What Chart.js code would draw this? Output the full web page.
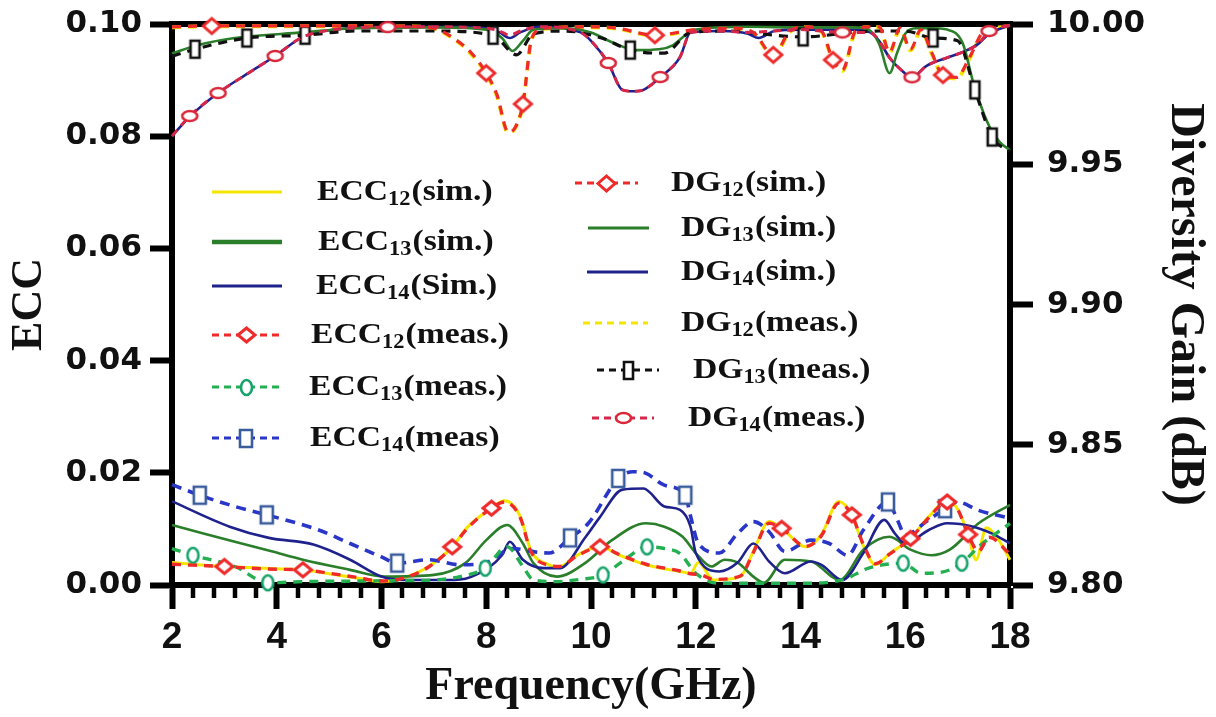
<!DOCTYPE html>
<html>
<head>
<meta charset="utf-8">
<script src="https://cdn.jsdelivr.net/npm/chart.js@4.4.1/dist/chart.umd.min.js"></script>
<style>
  html, body { margin: 0; padding: 0; background: #ffffff; }
  #c { display: block; }
</style>
</head>
<body>
<canvas id="c" width="1216" height="717"></canvas>
<script>
// ---------- ECC (left axis) ----------
const ecc12SimF = [2,2.5,3,3.5,4,4.5,5,5.5,6,6.4,6.9,7.35,7.65,8.1,8.35,8.65,8.85,9.2,9.4,9.7,10,10.17,10.55,11.05,11.7,11.9,12.05,12.34,12.85,13.1,13.4,13.64,14.1,14.4,14.73,14.98,15.2,15.43,15.7,16.1,16.45,16.8,17,17.2,17.35,17.55,17.75,18];
const ecc12SimV = [0.0040,0.0036,0.0033,0.0031,0.0029,0.0027,0.0020,0.0013,0.0006,0.0012,0.0033,0.0068,0.0104,0.0137,0.0150,0.0122,0.0062,0.0036,0.0033,0.0051,0.0065,0.0068,0.0053,0.0036,0.0024,0.0021,0.0040,0.0009,0.0015,0.0060,0.0113,0.0101,0.0068,0.0090,0.0149,0.0125,0.0070,0.0036,0.0056,0.0083,0.0122,0.0150,0.0135,0.0090,0.0045,0.0102,0.0085,0.0045];

const ecc13SimF = [2,2.6,3.2,3.9,4.5,5.4,6.05,7.0,7.6,8.0,8.4,8.7,8.9,9.35,9.9,10.4,11.05,11.4,11.75,12.0,12.3,12.55,12.8,13.1,13.3,13.7,14.2,14.75,15.2,15.7,16.1,16.5,16.85,17.4,18];
const ecc13SimV = [0.0107,0.0092,0.0077,0.0060,0.0045,0.0027,0.0015,0.0018,0.0039,0.0080,0.0107,0.0074,0.0039,0.0015,0.0040,0.0080,0.0110,0.0104,0.0086,0.0057,0.0033,0.0045,0.0040,0.0015,0.0004,0.0045,0.0042,0.0009,0.0063,0.0086,0.0063,0.0053,0.0063,0.0110,0.0143];

const ecc14SimF = [2,3.1,3.85,4.7,5.4,6.0,6.4,7.4,7.8,8.3,8.45,8.7,9.1,9.4,9.9,10.17,10.6,11.0,11.4,11.7,11.9,12.0,12.45,12.8,13.1,13.4,13.7,14.2,14.4,14.8,15.2,15.6,15.8,16.0,16.45,16.8,17.3,17.65,18];
const ecc14SimV = [0.0149,0.0104,0.0084,0.0072,0.0045,0.0015,0.0009,0.0009,0.0018,0.0053,0.0077,0.0045,0.0030,0.0030,0.0086,0.0121,0.0170,0.0172,0.0140,0.0134,0.0104,0.0057,0.0024,0.0040,0.0074,0.0042,0.0021,0.0042,0.0036,0.0009,0.0057,0.0116,0.0092,0.0074,0.0098,0.0110,0.0104,0.0092,0.0074];

const ecc12MeasF = [2,2.5,3,3.5,4,4.5,5,5.5,6,6.4,6.9,7.35,7.65,8.1,8.35,8.65,8.85,9.2,9.4,9.7,10,10.17,10.55,11.05,11.7,11.9,12.1,12.34,12.85,13.1,13.4,13.64,14.1,14.4,14.73,14.98,15.2,15.43,15.7,16.1,16.45,16.8,17,17.2,17.4,17.6,18];
const ecc12MeasV = [0.0037,0.0035,0.0033,0.0030,0.0028,0.0027,0.0021,0.0014,0.0007,0.0012,0.0032,0.0068,0.0102,0.0137,0.0148,0.0120,0.0060,0.0035,0.0033,0.0050,0.0064,0.0068,0.0054,0.0037,0.0025,0.0020,0.0018,0.0010,0.0016,0.0058,0.0110,0.0101,0.0069,0.0088,0.0146,0.0125,0.0072,0.0038,0.0055,0.0083,0.0120,0.0148,0.0135,0.0090,0.0060,0.0085,0.0055];
const ecc12MeasMarks = [3,4.5,7.35,8.1,10.17,13.64,14.98,16.1,16.8,17.2];

const ecc13MeasF = [2,2.4,3.2,3.83,4.5,5.5,6.5,7.0,7.5,7.98,8.4,8.7,8.9,9.3,9.8,10.23,10.6,11.07,11.4,11.7,12.0,12.45,13,14,14.8,15.3,15.96,16.3,16.7,17.08,17.4,18];
const ecc13MeasV = [0.0065,0.0053,0.0033,0.0004,0.0006,0.0007,0.0008,0.0009,0.0015,0.0030,0.0068,0.0033,0.0009,0.0006,0.0010,0.0018,0.0042,0.0068,0.0065,0.0056,0.0021,0.0003,0.0003,0.0003,0.0009,0.0030,0.0039,0.0021,0.0023,0.0039,0.0068,0.0110];
const ecc13MeasMarks = [2.4,3.83,7.98,10.23,11.07,15.96,17.08];

const ecc14MeasF = [2,2.53,3.2,3.81,4.8,5.4,6.0,6.3,6.9,7.5,8.0,8.5,9.0,9.2,9.6,9.95,10.52,10.8,11.05,11.4,11.8,11.9,12.05,12.45,12.8,13.1,13.4,13.7,14.2,14.55,14.9,15.2,15.67,15.85,16.0,16.4,16.76,17.0,17.4,18];
const ecc14MeasV = [0.0179,0.0160,0.0140,0.0125,0.0098,0.0074,0.0050,0.0039,0.0045,0.0036,0.0040,0.0065,0.0058,0.0057,0.0084,0.0110,0.0190,0.0202,0.0199,0.0178,0.0160,0.0123,0.0074,0.0057,0.0092,0.0113,0.0095,0.0060,0.0080,0.0074,0.0053,0.0098,0.0148,0.0116,0.0089,0.0113,0.0136,0.0148,0.0133,0.0119];
const ecc14MeasMarks = [2.53,3.81,6.3,9.6,10.52,11.8,15.67,16.76];

// ---------- Diversity gain (right axis, dB) ----------
const dg12SimF = [2,2.76,3.5,4.5,5.5,6.5,7.0,7.37,7.7,8.0,8.2,8.42,8.55,8.7,8.87,9.1,10,10.5,11.22,12,12.7,13.1,13.48,13.8,14.1,14.4,14.62,14.8,15.05,15.3,15.5,15.7,15.9,16.1,16.3,16.5,16.72,16.98,17.23,17.5,17.8,18];
const dg12SimV = [9.9990,9.9993,9.9993,9.9993,9.9993,9.9992,9.9985,9.9950,9.9900,9.9825,9.9750,9.9615,9.9630,9.9715,9.9950,9.9985,9.9990,9.9985,9.9960,9.9980,9.9985,9.9970,9.9890,9.9975,9.9990,9.9975,9.9872,9.9836,9.9975,9.9990,9.9990,9.9900,9.9985,9.9910,9.9980,9.9900,9.9818,9.9810,9.9882,9.9975,9.9990,9.9995];
const dg12SimMarks = [2.76,8.0,8.7,11.22,13.48,14.62,16.72];

const dg13SimF = [2,2.5,3.2,4.5,5.5,7,8,8.3,8.5,8.7,8.9,9.5,10,10.4,10.87,11.3,11.57,11.8,12,13,14,15,15.3,15.5,15.7,15.85,16.0,16.2,16.5,16.8,17.1,17.3,17.5,17.62,17.8,18];
const dg13SimV = [9.9895,9.9925,9.9950,9.9970,9.9985,9.9988,9.9980,9.9950,9.9904,9.9940,9.9980,9.9985,9.9970,9.9935,9.9907,9.9910,9.9925,9.9960,9.9980,9.9990,9.9988,9.9988,9.9980,9.9930,9.9825,9.9900,9.9965,9.9985,9.9985,9.9980,9.9930,9.9790,9.9680,9.9630,9.9580,9.9550];

const dg14SimF = [2,2.34,2.88,3.5,3.97,4.5,5.1,6.12,7,8,8.25,8.45,8.65,9,9.8,10,10.33,10.6,10.8,11.0,11.32,11.7,11.9,12.5,13.0,13.2,13.5,14,15,15.33,15.5,15.7,15.9,16.13,16.4,16.8,17.1,17.4,17.6,18];
const dg14SimV = [9.9600,9.9670,9.9754,9.9830,9.9886,9.9954,9.9980,9.9989,9.9990,9.9985,9.9970,9.9950,9.9970,9.9990,9.9970,9.9940,9.9860,9.9765,9.9760,9.9765,9.9810,9.9882,9.9970,9.9975,9.9965,9.9950,9.9975,9.9980,9.9980,9.9970,9.9940,9.9880,9.9840,9.9810,9.9850,9.9880,9.9900,9.9930,9.9965,9.9995];

const dg12MeasF = [2,2.76,3.5,4.5,5.5,6.5,7.0,7.37,7.7,8.0,8.2,8.42,8.55,8.7,8.87,9.1,10,10.5,11.22,12,12.7,13.1,13.48,13.8,14.1,14.4,14.62,14.8,15.05,15.3,15.5,15.7,15.9,16.1,16.3,16.5,16.72,16.98,17.23,17.5,17.8,18];
const dg12MeasV = [9.9988,9.9992,9.9992,9.9992,9.9992,9.9991,9.9983,9.9948,9.9895,9.9822,9.9745,9.9612,9.9628,9.9712,9.9948,9.9983,9.9988,9.9983,9.9958,9.9978,9.9983,9.9968,9.9887,9.9972,9.9988,9.9972,9.9868,9.9832,9.9972,9.9988,9.9988,9.9898,9.9983,9.9906,9.9978,9.9896,9.9815,9.9806,9.9878,9.9972,9.9988,9.9993];

const dg13MeasF = [2,2.44,3.43,4.54,5.5,7,8.13,8.58,8.9,9.5,10.2,10.75,11.4,11.9,12.5,14.05,15,15.5,16,16.53,17.0,17.33,17.66,18];
const dg13MeasV = [9.9885,9.9910,9.9950,9.9960,9.9975,9.9975,9.9960,9.9890,9.9965,9.9975,9.9950,9.9907,9.9896,9.9970,9.9975,9.9954,9.9970,9.9975,9.9975,9.9950,9.9940,9.9765,9.9597,9.9545];
const dg13MeasMarks = [2.44,3.43,4.54,8.13,10.75,14.05,16.53,17.33,17.66];

const dg14MeasF = [2,2.34,2.88,3.5,3.97,4.5,5.1,6.12,7,8,8.25,8.45,8.65,9,9.8,10,10.33,10.6,10.8,11.0,11.32,11.7,11.9,12.5,13.0,13.5,14,14.8,15.33,15.5,15.7,15.9,16.13,16.4,16.8,17.1,17.4,17.6,18];
const dg14MeasV = [9.9600,9.9672,9.9754,9.9830,9.9886,9.9954,9.9980,9.9989,9.9990,9.9985,9.9975,9.9960,9.9975,9.9990,9.9970,9.9940,9.9861,9.9765,9.9760,9.9765,9.9811,9.9882,9.9970,9.9975,9.9970,9.9975,9.9980,9.9970,9.9970,9.9940,9.9880,9.9840,9.9810,9.9850,9.9880,9.9900,9.9930,9.9975,9.9995];
const dg14MeasMarks = [2.34,2.88,3.97,6.12,10.33,11.32,14.8,16.13,17.6];

// ---------- axis ticks ----------
const xTicks = [2,4,6,8,10,12,14,16,18];
const eccTicks = [0,0.02,0.04,0.06,0.08,0.10];
const dgTicks = [9.80,9.85,9.90,9.95,10.00];

// ---------- helpers ----------
function pairs(f, v) { return f.map((x, i) => ({ x: x, y: v[i] })); }

// open marker glyphs (white fill, coloured outline)
function glyph(shape, w, h, color, lw) {
  const c = document.createElement('canvas');
  c.width = Math.ceil(w + lw * 2 + 2);
  c.height = Math.ceil(h + lw * 2 + 2);
  const g = c.getContext('2d');
  g.translate(c.width / 2, c.height / 2);
  g.lineWidth = lw;
  g.strokeStyle = color;
  g.fillStyle = '#ffffff';
  g.lineJoin = 'miter';
  g.beginPath();
  if (shape === 'diamond') {
    g.moveTo(0, -h / 2); g.lineTo(w / 2, 0); g.lineTo(0, h / 2); g.lineTo(-w / 2, 0); g.closePath();
  } else if (shape === 'rect') {
    g.rect(-w / 2, -h / 2, w, h);
  } else {
    g.ellipse(0, 0, w / 2, h / 2, 0, 0, Math.PI * 2);
  }
  g.fill();
  g.stroke();
  return c;
}

const RED = '#ee2a2a', YEL = '#f4e600', DGREEN = '#2b7f2b', NAVY = '#1f228c';
const LGREEN = '#24b050', BLUE = '#2a36c8', CRIMSON = '#d6264a', BLACK = '#111111';

const mDiamondEcc = glyph('diamond', 17, 14, RED, 3);
const mCircleEcc  = glyph('ellipse', 11, 15, '#17a36b', 2.6);
const mSquareEcc  = glyph('rect', 12, 17, '#3b5c9c', 2.6);
const mDiamondDg  = glyph('diamond', 17, 15, RED, 3);
const mRectDg     = glyph('rect', 9, 17, BLACK, 2.6);
const mCircleDg   = glyph('ellipse', 15, 10, '#d8283a', 2.6);

function markAt(list) {
  return ctx => (ctx.raw && list.includes(ctx.raw.x)) ? 6 : 0;
}

function lineSet(opts) {
  return Object.assign({
    type: 'line',
    xAxisID: 'x',
    fill: false,
    pointRadius: 0,
    pointHoverRadius: 0,
    cubicInterpolationMode: 'monotone',
    clip: false,
    borderCapStyle: 'butt'
  }, opts);
}

const datasets = [
  lineSet({ label: 'ECC12(sim.)', data: pairs(ecc12SimF, ecc12SimV), yAxisID: 'y',
            borderColor: YEL, borderWidth: 3, order: 8,
            key: { x0: 212, x1: 282, tx: 317, y: 192, w: 3 } }),
  lineSet({ label: 'ECC13(sim.)', data: pairs(ecc13SimF, ecc13SimV), yAxisID: 'y',
            borderColor: DGREEN, borderWidth: 2.6, order: 7,
            key: { x0: 212, x1: 282, tx: 318, y: 242, w: 4.5 } }),
  lineSet({ label: 'ECC14(Sim.)', data: pairs(ecc14SimF, ecc14SimV), yAxisID: 'y',
            borderColor: NAVY, borderWidth: 2.6, order: 6,
            key: { x0: 212, x1: 282, tx: 316, y: 286, w: 3 } }),
  lineSet({ label: 'ECC12(meas.)', data: pairs(ecc12MeasF, ecc12MeasV), yAxisID: 'y',
            borderColor: RED, borderWidth: 3.4, borderDash: [9, 7], order: 2,
            pointStyle: mDiamondEcc, pointRadius: markAt(ecc12MeasMarks),
            key: { x0: 212, x1: 280, tx: 311, y: 335, w: 3, dash: [7, 5] } }),
  lineSet({ label: 'ECC13(meas.)', data: pairs(ecc13MeasF, ecc13MeasV), yAxisID: 'y',
            borderColor: LGREEN, borderWidth: 3.4, borderDash: [9, 7], order: 3,
            pointStyle: mCircleEcc, pointRadius: markAt(ecc13MeasMarks),
            key: { x0: 212, x1: 280, tx: 309, y: 387, w: 3, dash: [7, 5] } }),
  lineSet({ label: 'ECC14(meas)', data: pairs(ecc14MeasF, ecc14MeasV), yAxisID: 'y',
            borderColor: BLUE, borderWidth: 3.6, borderDash: [10, 7], order: 4,
            pointStyle: mSquareEcc, pointRadius: markAt(ecc14MeasMarks),
            key: { x0: 212, x1: 280, tx: 310, y: 438, w: 3, dash: [7, 5] } }),

  lineSet({ label: 'DG12(sim.)', data: pairs(dg12SimF, dg12SimV), yAxisID: 'y2',
            borderColor: RED, borderWidth: 3.2, borderDash: [9, 7], order: 1,
            pointStyle: mDiamondDg, pointRadius: markAt(dg12SimMarks),
            key: { x0: 575, x1: 638, tx: 671, y: 183, w: 3, dash: [7, 5] } }),
  lineSet({ label: 'DG13(sim.)', data: pairs(dg13SimF, dg13SimV), yAxisID: 'y2',
            borderColor: DGREEN, borderWidth: 2.6, order: 9,
            key: { x0: 588, x1: 649, tx: 681, y: 228, w: 3 } }),
  lineSet({ label: 'DG14(sim.)', data: pairs(dg14SimF, dg14SimV), yAxisID: 'y2',
            borderColor: NAVY, borderWidth: 2.6, order: 10,
            key: { x0: 587, x1: 648, tx: 681, y: 272, w: 3 } }),
  lineSet({ label: 'DG12(meas.)', data: pairs(dg12MeasF, dg12MeasV), yAxisID: 'y2',
            borderColor: YEL, borderWidth: 4, borderDash: [9, 7], order: 11,
            key: { x0: 583, x1: 648, tx: 681, y: 323, w: 3, dash: [7, 5] } }),
  lineSet({ label: 'DG13(meas.)', data: pairs(dg13MeasF, dg13MeasV), yAxisID: 'y2',
            borderColor: BLACK, borderWidth: 3.2, borderDash: [9, 7], order: 5,
            pointStyle: mRectDg, pointRadius: markAt(dg13MeasMarks),
            key: { x0: 597, x1: 659, tx: 693, y: 370, w: 3, dash: [7, 5] } }),
  lineSet({ label: 'DG14(meas.)', data: pairs(dg14MeasF, dg14MeasV), yAxisID: 'y2',
            borderColor: CRIMSON, borderWidth: 3, borderDash: [8, 6], order: 0,
            pointStyle: mCircleDg, pointRadius: markAt(dg14MeasMarks),
            key: { x0: 592, x1: 654, tx: 688, y: 418, w: 3, dash: [7, 5] } })
];

// series key drawn inside the plot with subscripted indices
const seriesKey = {
  id: 'seriesKey',
  afterDatasetsDraw(chart) {
    const ctx = chart.ctx;
    chart.data.datasets.forEach(ds => {
      const k = ds.key;
      if (!k) return;
      ctx.save();
      ctx.strokeStyle = ds.borderColor;
      ctx.lineWidth = k.w;
      ctx.setLineDash(k.dash || []);
      ctx.beginPath();
      ctx.moveTo(k.x0, k.y);
      ctx.lineTo(k.x1, k.y);
      ctx.stroke();
      ctx.setLineDash([]);
      if (ds.pointStyle && typeof ds.pointStyle === 'object') {
        const g = ds.pointStyle;
        ctx.drawImage(g, Math.round((k.x0 + k.x1) / 2 - g.width / 2), Math.round(k.y - g.height / 2));
      }
      const m = ds.label.match(/^([A-Za-z]+)(\d+)(.*)$/);
      ctx.translate(k.tx, k.y);
      ctx.scale(1.12, 1);
      ctx.fillStyle = '#111111';
      ctx.textBaseline = 'middle';
      ctx.textAlign = 'left';
      ctx.font = 'bold 30px "Liberation Serif", "Times New Roman", serif';
      ctx.fillText(m[1], 0, 0);
      let w = ctx.measureText(m[1]).width;
      ctx.font = 'bold 20px "Liberation Serif", "Times New Roman", serif';
      ctx.fillText(m[2], w, 8);
      w += ctx.measureText(m[2]).width + 1;
      ctx.font = 'bold 30px "Liberation Serif", "Times New Roman", serif';
      ctx.fillText(m[3], w, 0);
      ctx.restore();
    });
  }
};

// short minor ticks every 0.4 GHz on the frequency axis
const minorTicks = {
  id: 'minorTicks',
  beforeDatasetsDraw(chart) {
    const xs = chart.scales.x;
    const ctx = chart.ctx;
    const y0 = chart.chartArea.bottom + 2;
    ctx.save();
    ctx.strokeStyle = '#000000';
    ctx.lineWidth = 4.5;
    for (let i = 1; i < 40; i++) {
      if (i % 5 === 0) continue;
      const px = Math.round(xs.getPixelForValue(xTicks[0] + i * 0.4));
      ctx.beginPath();
      ctx.moveTo(px, y0);
      ctx.lineTo(px, y0 + 11);
      ctx.stroke();
    }
    ctx.restore();
  }
};

const tickFont = { family: '"DejaVu Sans", sans-serif', weight: 'bold', size: 31 };

// vertical axes: fixed width, no extra label overhang above/below the plot
function fixVertical(width) {
  return s => { s.width = width; s.paddingTop = 0; s.paddingBottom = 0; };
}

new Chart(document.getElementById('c'), {
  data: { datasets: datasets },
  plugins: [minorTicks, seriesKey],
  options: {
    responsive: false,
    animation: false,
    events: [],
    layout: { padding: 0 },
    plugins: { legend: { display: false }, tooltip: { enabled: false } },
    scales: {
      x: {
        type: 'linear', position: 'bottom', min: xTicks[0], max: xTicks[xTicks.length - 1],
        afterBuildTicks: s => { s.ticks = xTicks.map(v => ({ value: v })); },
        ticks: { color: '#111111', padding: 7, maxRotation: 0, autoSkip: false,
                 font: { family: '"Liberation Sans", Arial, sans-serif', weight: 'bold', size: 37 } },
        grid: { drawOnChartArea: false, tickLength: 24, tickWidth: 6, tickColor: '#000000' },
        border: { display: true, width: 6, color: '#000000' },
        title: { display: true, text: 'Frequency(GHz)', color: '#111111', padding: 2,
                 font: { family: '"Liberation Serif", "Times New Roman", serif', weight: 'bold', size: 46 } },
        afterFit: s => { s.height = 132; s.paddingLeft = 0; s.paddingRight = 0; }
      },
      xTop: {
        type: 'linear', position: 'top', min: xTicks[0], max: xTicks[xTicks.length - 1],
        ticks: { display: false },
        grid: { display: false },
        border: { display: true, width: 6, color: '#000000' },
        afterFit: s => { s.height = 24; s.paddingLeft = 0; s.paddingRight = 0; }
      },
      y: {
        type: 'linear', position: 'left', min: 0, max: 0.1,
        afterBuildTicks: s => { s.ticks = eccTicks.map(v => ({ value: v })); },
        ticks: { color: '#111111', padding: 8, font: tickFont, callback: v => v.toFixed(2) },
        grid: { drawOnChartArea: false, tickLength: 22, tickWidth: 6, tickColor: '#000000' },
        border: { display: true, width: 6, color: '#000000' },
        title: { display: true, text: 'ECC', color: '#111111', padding: 3,
                 font: { family: '"Liberation Serif", "Times New Roman", serif', weight: 'bold', size: 44 } },
        afterFit: fixVertical(172)
      },
      y2: {
        type: 'linear', position: 'right', min: 9.8, max: 10.0,
        afterBuildTicks: s => { s.ticks = dgTicks.map(v => ({ value: v })); },
        ticks: { color: '#111111', padding: 14, font: tickFont, callback: v => v.toFixed(2) },
        grid: { drawOnChartArea: false, tickLength: 23, tickWidth: 6, tickColor: '#000000' },
        border: { display: true, width: 6, color: '#000000' },
        title: { display: true, text: 'Diversity Gain (dB)', color: '#111111', padding: 3,
                 font: { family: '"Liberation Serif", "Times New Roman", serif', weight: 'bold', size: 48 } },
        afterFit: fixVertical(206)
      }
    }
  }
});
</script>
</body>
</html>
